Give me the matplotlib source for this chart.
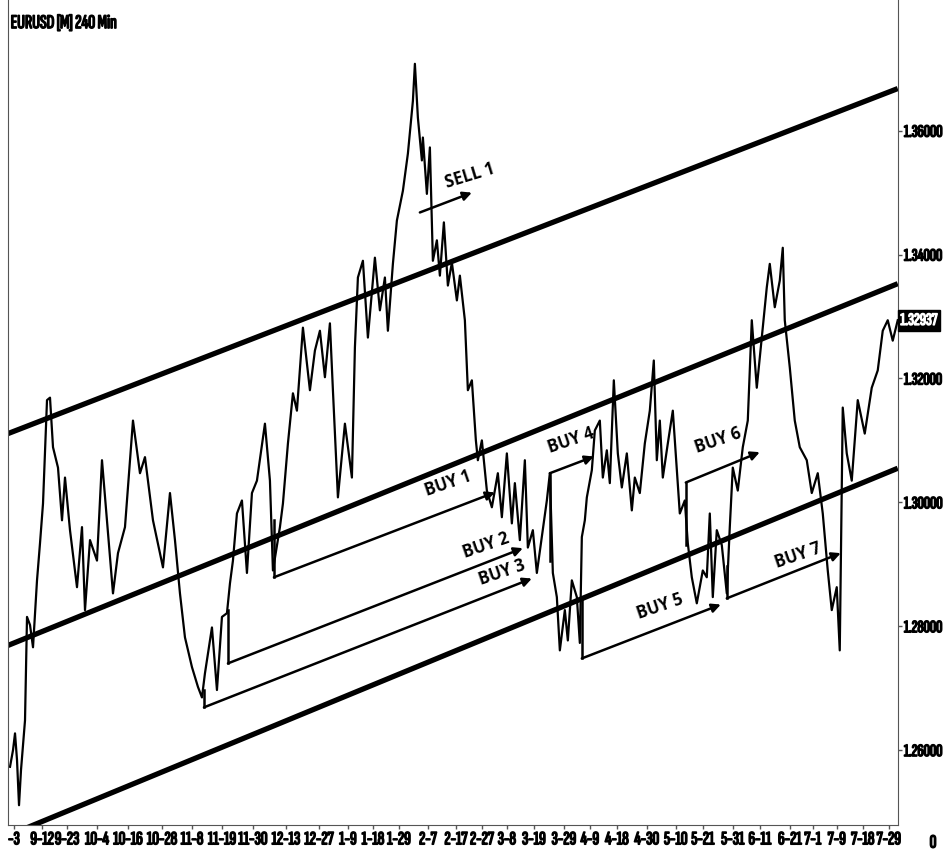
import matplotlib.pyplot as plt
import matplotlib.patheffects as pe
import numpy as np

# EURUSD 4h closes (bar index, price)
bars = [2, 5, 7, 9, 11, 13, 17, 19, 22, 25, 29, 32, 35, 39, 42, 45, 50, 54, 57, 62,
        69, 74, 77, 82, 89, 94, 99, 105, 110, 117, 125, 132, 137, 145, 155, 162, 167, 172, 177, 184,
        190, 194, 197, 204, 209, 214, 219, 222, 225, 229, 234, 239, 244, 249, 257, 262, 265, 272, 275, 280,
        285, 289, 295, 302, 307, 312, 317, 322, 325, 330, 337, 344, 347, 350, 355, 360, 367, 372, 377, 380,
        385, 389, 395, 400, 405, 407, 410, 414, 415, 419, 422, 425, 429, 432, 436, 440, 444, 449, 452, 457,
        460, 464, 468, 470, 474, 479, 484, 490, 494, 499, 504, 507, 512, 517, 520, 525, 529, 534, 539, 542,
        545, 549, 552, 557, 560, 564, 569, 572, 574, 577, 579, 584, 587, 592, 595, 599, 602, 606, 610, 614,
        619, 624, 627, 632, 637, 642, 646, 649, 652, 655, 660, 665, 669, 672, 677, 680, 684, 689, 695, 699,
        702, 705, 709, 714, 719, 722, 725, 730, 735, 740, 744, 749, 754, 759, 762, 767, 772, 775, 777, 782,
        787, 792, 799, 804, 810, 815, 820, 824, 829, 832, 835, 839, 844, 850, 857, 864, 870, 875, 880, 885, 890]
close = [1.2573, 1.2600, 1.2627, 1.2584, 1.2511, 1.2568, 1.2648, 1.2815, 1.2802, 1.2766, 1.2874, 1.2934, 1.2998, 1.3165, 1.3169, 1.3089, 1.3056, 1.2971, 1.3040, 1.2955,
         1.2863, 1.2960, 1.2826, 1.2939, 1.2906, 1.3068, 1.2971, 1.2853, 1.2918, 1.2960, 1.3132, 1.3047, 1.3073, 1.2971, 1.2895, 1.3015, 1.2939, 1.2853, 1.2782, 1.2734,
         1.2702, 1.2685, 1.2724, 1.2798, 1.2697, 1.2815, 1.2821, 1.2869, 1.2906, 1.2982, 1.3003, 1.2886, 1.3015, 1.3035, 1.3127, 1.3035, 1.2890, 1.2960, 1.2998, 1.3095,
         1.3176, 1.3148, 1.3282, 1.3181, 1.3245, 1.3277, 1.3202, 1.3289, 1.3181, 1.3008, 1.3127, 1.3040, 1.3250, 1.3363, 1.3390, 1.3266, 1.3395, 1.3310, 1.3363, 1.3277,
         1.3385, 1.3455, 1.3503, 1.3563, 1.3648, 1.3708, 1.3621, 1.3552, 1.3589, 1.3498, 1.3573, 1.3390, 1.3423, 1.3366, 1.3452, 1.3350, 1.3387, 1.3326, 1.3366, 1.3294,
         1.3181, 1.3197, 1.3100, 1.3068, 1.3100, 1.3019, 1.2992, 1.3047, 1.2976, 1.3079, 1.2966, 1.3031, 1.2939, 1.3068, 1.2927, 1.2955, 1.2886, 1.2944, 1.3003, 1.3047,
         1.2886, 1.2847, 1.2761, 1.2826, 1.2777, 1.2874, 1.2847, 1.2773, 1.2944, 1.2971, 1.3008, 1.3052, 1.3116, 1.3132, 1.3040, 1.3084, 1.3031, 1.3197, 1.3079, 1.3024,
         1.3079, 1.2987, 1.3040, 1.3015, 1.3095, 1.3148, 1.3229, 1.3068, 1.3132, 1.3040, 1.3095, 1.3148, 1.3052, 1.2982, 1.3003, 1.2934, 1.2879, 1.2837, 1.2890, 1.2879,
         1.2982, 1.2847, 1.2955, 1.2931, 1.2853, 1.2960, 1.3056, 1.3019, 1.3089, 1.3132, 1.3294, 1.3185, 1.3266, 1.3347, 1.3385, 1.3315, 1.3358, 1.3411, 1.3294, 1.3218,
         1.3132, 1.3089, 1.3068, 1.3015, 1.3047, 1.2982, 1.2890, 1.2826, 1.2863, 1.2761, 1.3153, 1.3079, 1.3035, 1.3165, 1.3111, 1.3185, 1.3213, 1.3277, 1.3294, 1.3261, 1.3294]
last_price = 1.32937

# channel lines: (start bar, start price, end bar, end price)
channels = [(0, 1.3111, 890, 1.3668),
            (0, 1.2769, 890, 1.3353),
            (0, 1.2462, 890, 1.3055)]

# trade arrows: name, bar, price at start, price at corner, end bar, end price, label bar, label price
trades = [("BUY 1", 266, 1.2971, 1.2879, 487, 1.3016, 440, 1.3031),
          ("BUY 2", 220, 1.2826, 1.2740, 515, 1.2926, 478, 1.2931),
          ("BUY 3", 196, 1.2697, 1.2669, 524, 1.2877, 494, 1.2887),
          ("BUY 4", 542, 1.2906, 1.3047, 586, 1.3074, 563, 1.3100),
          ("BUY 5", 574, 1.2842, 1.2748, 713, 1.2835, 652, 1.2832),
          ("BUY 6", 678, 1.2931, 1.3032, 752, 1.3081, 710, 1.3100),
          ("BUY 7", 719, 1.2898, 1.2845, 833, 1.2918, 790, 1.2915)]
sell = ("SELL 1", 412, 1.3468, 464, 1.3500, 462, 1.3527)

tick_bars = [6, 34, 59, 89, 120, 154, 184, 214, 245, 278, 311, 340, 365, 391, 420, 448,
             474, 499, 526, 556, 582, 609, 639, 668, 695, 725, 752, 782, 805, 829, 855, 881]
tick_labels = ['-3', '9-12', '9-23', '10-4', '10-16', '10-28', '11-8', '11-19', '11-30', '12-13', '12-27',
               '1-9', '1-18', '1-29', '2-7', '2-17', '2-27', '3-8', '3-19', '3-29', '4-9', '4-18', '4-30',
               '5-10', '5-21', '5-31', '6-11', '6-21', '7-1', '7-9', '7-18', '7-29']
price_ticks = [1.26, 1.28, 1.30, 1.32, 1.34, 1.36]

narrow = ['Sofia Sans Extra Condensed', 'Special Gothic Condensed One', 'DejaVu Sans']
label_font = ['Open Sans', 'DejaVu Sans']
heavy = [pe.withStroke(linewidth=1.1, foreground='black')]
heavy_white = [pe.withStroke(linewidth=1.0, foreground='white')]

fig = plt.figure(figsize=(9.43, 8.66), dpi=100)
ax = fig.add_axes([0.0085, 0.0473, 0.9435, 0.9527])

ax.plot(bars, close, color='black', lw=1.6)

for b0, p0, b1, p1 in channels:
    ax.plot([b0, b1], [p0, p1], color='black', lw=3.8, solid_capstyle='butt')

for name, b, p_start, p_corner, b_end, p_end, tb, tp in trades:
    ax.plot([b, b], [p_start, p_corner], color='black', lw=1.8)
    ax.annotate('', xy=(b_end, p_end), xytext=(b, p_corner),
                arrowprops=dict(arrowstyle='-|>', color='black', lw=1.8, mutation_scale=13,
                                shrinkA=0, shrinkB=0))
    ax.text(tb, tp, name, rotation=19, ha='center', va='center', fontsize=12,
            family=label_font, fontweight='bold')

name, b, p, b_end, p_end, tb, tp = sell
ax.annotate('', xy=(b_end, p_end), xytext=(b, p),
            arrowprops=dict(arrowstyle='-|>', color='black', lw=1.8, mutation_scale=13,
                            shrinkA=0, shrinkB=0))
ax.text(tb, tp, name, rotation=17, ha='center', va='center', fontsize=12,
        family=label_font, fontweight='bold')

ax.set_xlim(0, 890)
ax.set_ylim(1.2479, 1.3811)

ax.set_xticks(tick_bars)
ax.set_xticklabels(tick_labels, fontsize=13.5, family=narrow, path_effects=heavy)
ax.yaxis.tick_right()
ax.set_yticks(price_ticks)
ax.set_yticklabels([f'{v:.5f}' for v in price_ticks], fontsize=12.5, family=narrow, path_effects=heavy)
ax.tick_params(axis='both', direction='out', length=3, width=1, color='#555555', pad=1.5)
ax.spines['top'].set_visible(False)
for s in ['left', 'right', 'bottom']:
    ax.spines[s].set_color('#555555')

# current price marker on the price axis
ax.text(1.003, last_price, f'{last_price:.5f}', transform=ax.get_yaxis_transform(),
        ha='left', va='center', fontsize=12.5, color='white', family=narrow, path_effects=heavy_white,
        bbox=dict(boxstyle='square,pad=0.15', fc='black', ec='black'))

ax.text(0.003, 0.972, 'EURUSD [M] 240 Min', transform=ax.transAxes, fontsize=14,
        ha='left', va='center', family=narrow, path_effects=heavy)
fig.text(0.993, 0.027, '0', fontsize=13.5, ha='right', va='center', family=narrow, path_effects=heavy)

fig.savefig('out.png', dpi=100)
